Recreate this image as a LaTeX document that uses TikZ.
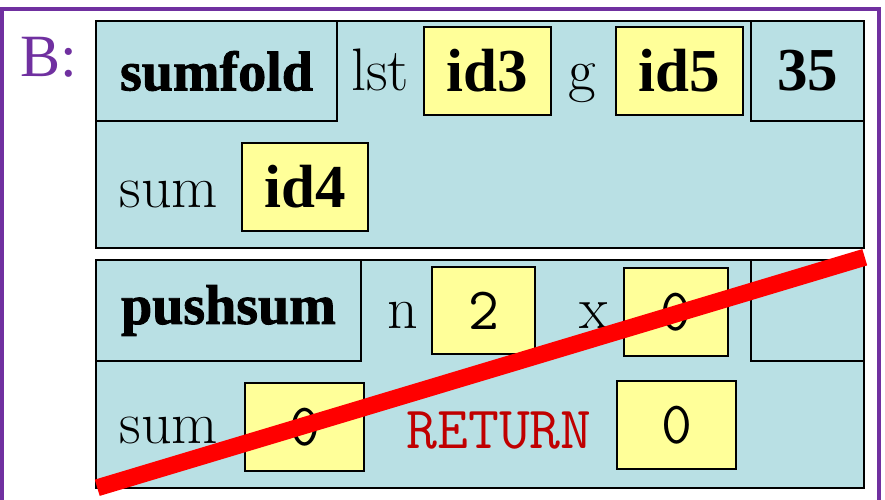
\documentclass[tikz,border=0pt]{standalone}
\usepackage{fontspec}
\usepackage{tikz}
\newfontfamily\timesf{Liberation Serif}
\newfontfamily\heavyf[FakeBold=1.5]{Liberation Serif Bold}
\definecolor{framebg}{RGB}{185, 224, 228}
\definecolor{valbg}{RGB}{255, 255, 153}
\definecolor{heapviolet}{RGB}{112, 48, 160}
\definecolor{retred}{RGB}{192, 0, 0}
\newcommand{\hdrfont}{\heavyf\fontsize{56}{60}\selectfont}
\newcommand{\idfont}{\timesf\bfseries\fontsize{61}{64}\selectfont}
\newcommand{\varfont}{\fontsize{60}{62}\selectfont}
\newcommand{\valfont}{\ttfamily\fontsize{60}{62}\selectfont}

\begin{document}
\begin{tikzpicture}[
            x=1pt, y=-1pt,
            frame/.style={draw, line width=1.5pt, fill=framebg, inner sep=0pt},
            valbox/.style={draw, line width=1.5pt, fill=valbg, inner sep=0pt, minimum height=88pt},
            varname/.style={anchor=base, inner sep=0pt, font=\varfont},
            crossout/.style={line width=17pt, red},
        ]
            \useasboundingbox (0,0) rectangle (885,499);
            % heap object frame
            \draw[heapviolet, line width=4pt] (2,505) -- (2,9) -- (879,9) -- (879,505);
            \node[anchor=base west, inner sep=0pt, text=heapviolet, font=\timesf\fontsize{60}{62}\selectfont] (objname) at (20,76) {B:};

            % call frame of sumfold
            \node[frame, minimum width=768pt, minimum height=227pt] (sumframe) at (480,134.5) {};
            \node[frame, minimum width=241pt, minimum height=100pt, font=\hdrfont] (sumhdr) at (216.5,71) {sumfold};
            \node[varname] (lstname) at (380,90) {lst};
            \node[valbox, minimum width=127pt, font=\idfont] (lstval) at (487.5,71) {id3};
            \node[varname] (gname) at (582,90) {g};
            \node[valbox, minimum width=127pt, font=\idfont] (gval) at (679.5,71) {id5};
            \node[frame, minimum width=113pt, minimum height=100pt, font=\idfont] (sumline) at (807.5,71) {35};
            \node[varname] (sumname) at (169,207) {sum};
            \node[valbox, minimum width=126pt, font=\idfont] (sumval) at (305,187) {id4};

            % call frame of pushsum
            \node[frame, minimum width=768pt, minimum height=228pt] (pushframe) at (480,374) {};
            \node[frame, minimum width=265pt, minimum height=101pt, font=\hdrfont] (pushhdr) at (228.5,310.5) {pushsum};
            \node[varname] (nname) at (403,328) {n};
            \node[valbox, minimum width=103pt, minimum height=87pt, font=\valfont] (nval) at (483.5,310.5) {2};
            \node[varname] (xname) at (594,328) {x};
            \node[valbox, minimum width=104pt, font=\valfont] (xval) at (676,312) {0};
            \node[frame, minimum width=113pt, minimum height=101pt] (pushline) at (807.5,310.5) {};
            \node[varname] (psumname) at (169,443) {sum};
            \node[valbox, minimum width=119pt, font=\valfont] (psumval) at (304.5,427) {0};
            \node[anchor=base, inner sep=0pt, text=retred, font=\valfont] (retname) at (499,448) {RETURN};
            \node[valbox, minimum width=119pt, font=\valfont] (retval) at (676.5,425) {0};

            % frame is erased
            \draw[crossout] ([xshift=2pt, yshift=1pt]pushframe.south west) -- ([yshift=2pt]pushframe.north east);
        \end{tikzpicture}
\end{document}
